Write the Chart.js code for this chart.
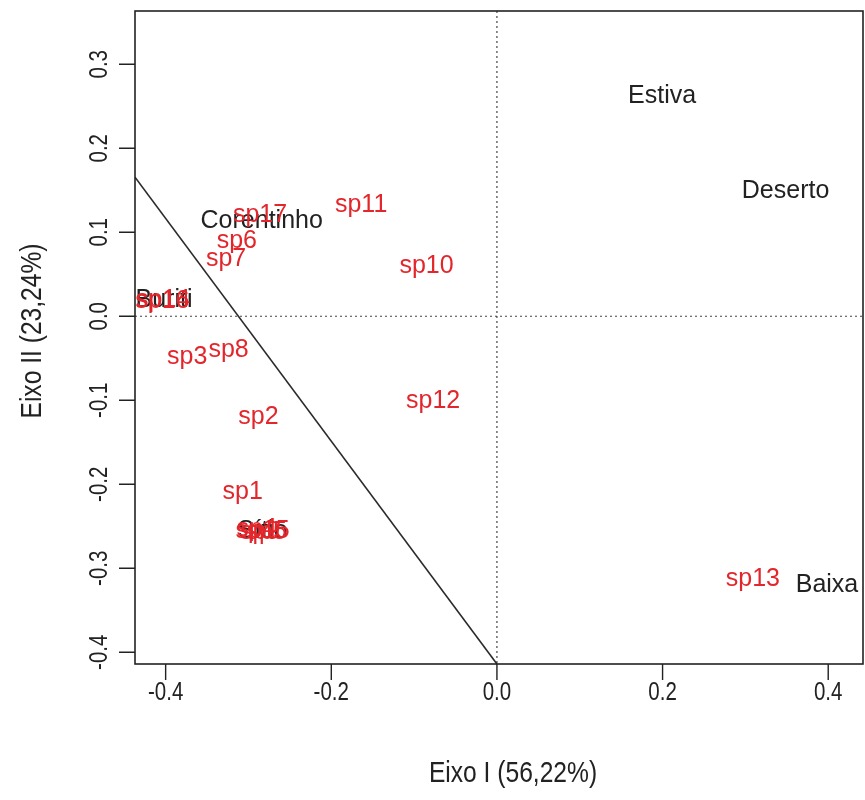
<!DOCTYPE html>
<html>
<head>
    <title>Eixo I x Eixo II</title>
    <script src="https://cdn.jsdelivr.net/npm/chart.js"></script>
    <style>
        body { margin: 0; padding: 0; background: #ffffff; }
        #wrap { width: 865px; height: 800px; }
    </style>
</head>
<body>
    <div id="wrap"><canvas id="chart" width="865" height="800"></canvas></div>
    <script>
        // species scores (red labels)
        const spLabels = ['sp1', 'sp2', 'sp3', 'sp4', 'sp5', 'sp6', 'sp7', 'sp8', 'sp9', 'sp10',
                          'sp11', 'sp12', 'sp13', 'sp14', 'sp15', 'sp16', 'sp17'];
        const spX = [-0.307, -0.288, -0.374, -0.290, -0.278, -0.314, -0.327, -0.324, -0.286, -0.085,
                     -0.164, -0.077, 0.309, -0.403, -0.283, -0.404, -0.286];
        const spY = [-0.207, -0.118, -0.046, -0.251, -0.254, 0.092, 0.070, -0.038, -0.255, 0.062,
                     0.135, -0.099, -0.311, 0.022, -0.253, 0.020, 0.123];

        // site scores (black labels)
        const siteLabels = ['Estiva', 'Deserto', 'Corentinho', 'Buriti', 'Sítio', 'Baixa'];
        const siteX = [0.1995, 0.3485, -0.284, -0.402, -0.283, 0.3985];
        const siteY = [0.264, 0.151, 0.1155, 0.0215, -0.253, -0.318];

        // fitted line
        const lineX = [-0.437, 0.0];
        const lineY = [0.1655, -0.414];

        const xTicks = [-0.4, -0.2, 0.0, 0.2, 0.4];
        const yTicks = [-0.4, -0.3, -0.2, -0.1, 0.0, 0.1, 0.2, 0.3];

        const xTitle = 'Eixo I (56,22%)';
        const yTitle = 'Eixo II (23,24%)';

        const RED = '#e3262b';
        const INK = '#222222';
        const LABEL_PX = 25;

        const toPoints = (xs, ys) => xs.map((x, i) => ({ x: x, y: ys[i] }));

        // narrow text like the R png device output
        function narrowText(ctx, text, x, y, size, rot) {
            ctx.save();
            ctx.translate(x, y);
            if (rot) ctx.rotate(rot);
            ctx.scale(0.82, 1);
            ctx.font = size + 'px "Liberation Sans", Arial, sans-serif';
            ctx.textAlign = 'center';
            ctx.textBaseline = 'alphabetic';
            ctx.fillStyle = INK;
            ctx.fillText(text, 0, size * 0.358);
            ctx.restore();
        }

        const decor = {
            id: 'decor',
            beforeDatasetsDraw(chart) {
                const { ctx, chartArea: a, scales: { x, y } } = chart;
                ctx.save();
                ctx.strokeStyle = '#444';
                ctx.lineWidth = 1.2;
                ctx.setLineDash([2, 3]);
                const x0 = x.getPixelForValue(0);
                const y0 = y.getPixelForValue(0);
                ctx.beginPath();
                ctx.moveTo(x0, a.top); ctx.lineTo(x0, a.bottom);
                ctx.moveTo(a.left, y0); ctx.lineTo(a.right, y0);
                ctx.stroke();
                ctx.restore();
            },
            afterDatasetsDraw(chart) {
                const { ctx, chartArea: a, scales: { x, y } } = chart;

                // text labels at the points
                ctx.save();
                ctx.beginPath();
                ctx.rect(a.left, a.top, a.right - a.left, a.bottom - a.top);
                ctx.clip();
                ctx.font = LABEL_PX + 'px "Liberation Sans", Arial, sans-serif';
                ctx.textAlign = 'center';
                ctx.textBaseline = 'alphabetic';
                [[0, siteLabels, INK], [1, spLabels, RED]].forEach(([idx, labels, color]) => {
                    const meta = chart.getDatasetMeta(idx);
                    ctx.fillStyle = color;
                    meta.data.forEach((pt, i) => {
                        ctx.fillText(labels[i], pt.x, pt.y + LABEL_PX * 0.358);
                    });
                });
                ctx.restore();

                // box
                ctx.save();
                ctx.strokeStyle = '#222';
                ctx.lineWidth = 1.6;
                ctx.strokeRect(a.left, a.top, a.right - a.left, a.bottom - a.top);

                // x ticks
                ctx.lineWidth = 1.4;
                ctx.beginPath();
                xTicks.forEach(v => {
                    const px = x.getPixelForValue(v);
                    ctx.moveTo(px, a.bottom); ctx.lineTo(px, a.bottom + 16);
                });
                yTicks.forEach(v => {
                    const py = y.getPixelForValue(v);
                    ctx.moveTo(a.left, py); ctx.lineTo(a.left - 16, py);
                });
                ctx.stroke();
                ctx.restore();

                xTicks.forEach(v => {
                    narrowText(ctx, v.toFixed(1), x.getPixelForValue(v), a.bottom + 27, 25, 0);
                });
                yTicks.forEach(v => {
                    narrowText(ctx, v.toFixed(1), a.left - 37, y.getPixelForValue(v), 25, -Math.PI / 2);
                });

                narrowText(ctx, xTitle, 513, 771, 30, 0);
                narrowText(ctx, yTitle, 30, 331, 30, -Math.PI / 2);
            }
        };

        new Chart(document.getElementById('chart').getContext('2d'), {
            type: 'scatter',
            data: {
                datasets: [
                    { label: 'sites', data: toPoints(siteX, siteY), pointRadius: 0 },
                    { label: 'species', data: toPoints(spX, spY), pointRadius: 0 },
                    {
                        label: 'line',
                        data: toPoints(lineX, lineY),
                        showLine: true,
                        borderColor: '#2a2a2a',
                        borderWidth: 1.6,
                        pointRadius: 0
                    }
                ]
            },
            options: {
                responsive: false,
                animation: false,
                layout: { padding: { left: 135, right: 2, top: 11, bottom: 136 } },
                plugins: {
                    legend: { display: false },
                    tooltip: { enabled: false }
                },
                scales: {
                    x: { type: 'linear', min: -0.437, max: 0.442, display: false },
                    y: { type: 'linear', min: -0.414, max: 0.3634, display: false }
                }
            },
            plugins: [decor]
        });
    </script>
</body>
</html>
